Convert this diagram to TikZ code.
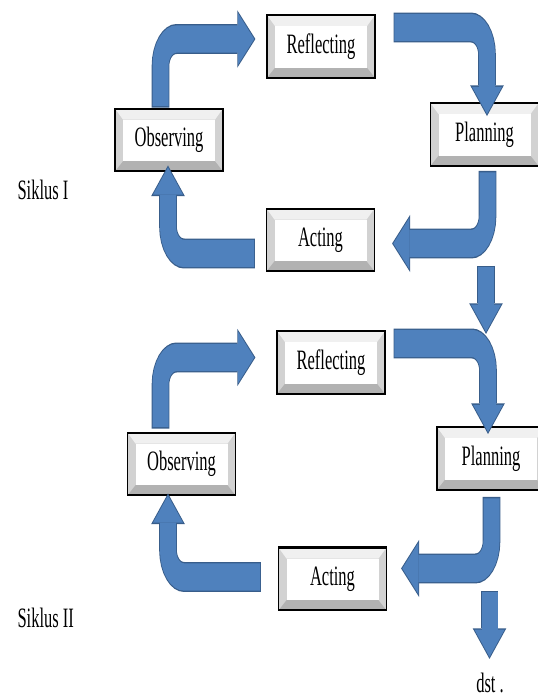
\documentclass[tikz,border=0pt]{standalone}
\usepackage{fontspec}
\setmainfont{Liberation Serif}
\usepackage{color}
\definecolor{myblue}{RGB}{79,129,189}
\definecolor{mybluedark}{RGB}{56,93,138}
\usetikzlibrary{arrows.meta,calc,positioning}

\begin{document}
\begin{tikzpicture}
\fill[white] (0,0) rectangle (538pt,-699pt);
\begin{scope}[
  transform canvas={yscale=1.7},
  x=1pt,
  y=-0.5882pt,
  font=\fontsize{16.5}{19}\selectfont,
  mybox/.style={
    draw,
    line width=1.2pt,
    fill=gray!35,
    minimum width=108pt,
    minimum height=37pt,
    inner sep=0pt,
    path picture={
      \path (path picture bounding box.north west) coordinate (pnw)
            (path picture bounding box.north east) coordinate (pne)
            (path picture bounding box.south east) coordinate (pse)
            (path picture bounding box.south west) coordinate (psw);
      \path ([shift={(8pt,-6.5pt)}]pnw) coordinate (qnw)
            ([shift={(-8pt,-6.5pt)}]pne) coordinate (qne)
            ([shift={(-8pt,6pt)}]pse) coordinate (qse)
            ([shift={(8pt,6pt)}]psw) coordinate (qsw);
      \fill[gray!12] (pnw) -- (pne) -- (qne) -- (qnw) -- cycle;
      \fill[gray!60] (psw) -- (pse) -- (qse) -- (qsw) -- cycle;
      \fill[white] (qnw) rectangle (qse);
    }
  },
  bluearrow/.style={
    draw=mybluedark,
    line width=17.6pt,
    rounded corners=16pt,
    -{Triangle[width=33.6pt,length=18pt,line width=0pt]},
    postaction={
      draw=myblue,
      line width=16pt,
      -{Triangle[width=30pt,length=16pt,line width=0pt]},
      shorten >=1.2pt,
      shorten <=0.8pt
    }
  }
]

% the boxes of both cycles
\foreach \nm/\txt/\px/\py in {
  refl1/Reflecting/321/46.5, plan1/Planning/484.5/134.5,
  obs1/Observing/169/140, act1/Acting/320.5/240,
  refl2/Reflecting/331/362.5, plan2/Planning/491/458.5,
  obs2/Observing/181.5/464, act2/Acting/332.5/579}
  \node[mybox] (\nm) at (\px,\py) {\txt};

\node[anchor=west] (sik1) at (14,190) {Siklus I};
\node[anchor=west] (sik2) at (14,618) {Siklus II};
\node (dst) at (490,683) {dst .};

% ends of the block arrows
\coordinate (a1s) at ($(obs1.north)+(-8.5,0)$);
\coordinate (a1e) at ($(refl1.west)+(-11,-7.5)$);
\coordinate (a2s) at ($(refl1.east)+(18,-19)$);
\coordinate (a2e) at ($(plan1.north)+(2.5,14)$);
\coordinate (a3s) at ($(plan1.south)+(3,4)$);
\coordinate (a3e) at ($(act1.east)+(17,3.5)$);
\coordinate (a4s) at ($(act1.west)+(-11,13.5)$);
\coordinate (a4e) at ($(obs1.south)+(-1,-7)$);
\coordinate (d1s) at ($(plan1.south)+(1.5,99)$);
\coordinate (d1e) at ($(d1s)+(0,68)$);

\coordinate (b1s) at ($(obs2.north)+(-21,-3)$);
\coordinate (b1e) at ($(refl2.west)+(-21,-5)$);
\coordinate (b2s) at ($(refl2.east)+(8,-19)$);
\coordinate (b2e) at ($(plan2.north)+(-3,8)$);
\coordinate (b3s) at ($(plan2.south)+(0.5,6)$);
\coordinate (b3e) at ($(act2.east)+(14,-10.5)$);
\coordinate (b4s) at ($(act2.west)+(-17,-2)$);
\coordinate (b4e) at ($(obs2.south)+(-13.5,-3)$);
\coordinate (d2s) at ($(plan2.south)+(-1.5,100)$);
\coordinate (d2e) at ($(d2s)+(0,68)$);

% Siklus I
\draw[bluearrow] (a1s) |- (a1e);
\draw[bluearrow] (a2s) -| (a2e);
\draw[bluearrow] (a3s) |- (a3e);
\draw[bluearrow] (a4s) -| (a4e);

% Siklus II
\draw[bluearrow] (b1s) |- (b1e);
\draw[bluearrow] (b2s) -| (b2e);
\draw[bluearrow] (b3s) |- (b3e);
\draw[bluearrow] (b4s) -| (b4e);

\draw[bluearrow] (d1s) -- (d1e);
\draw[bluearrow] (d2s) -- (d2e);

\end{scope}
\end{tikzpicture}
\end{document}
